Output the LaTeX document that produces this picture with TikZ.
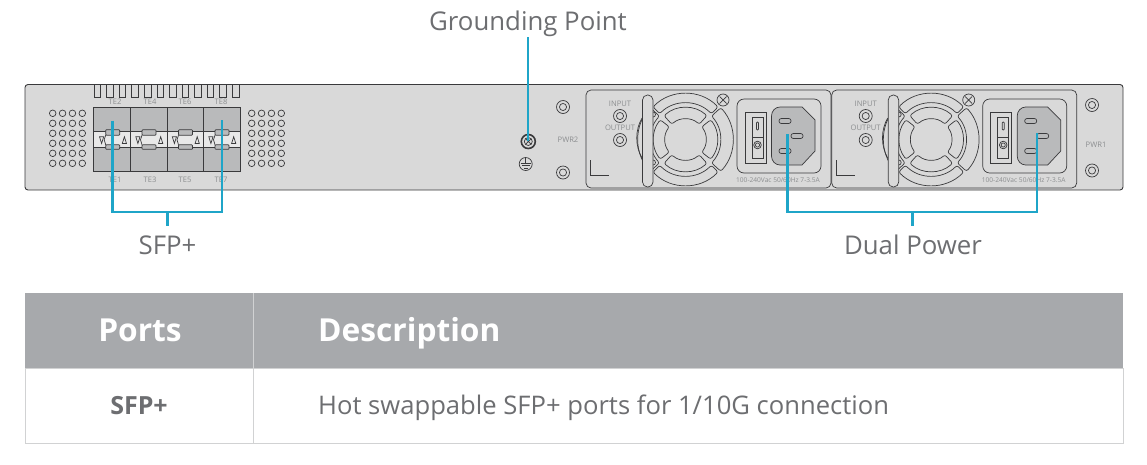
\documentclass[tikz,border=0pt]{standalone}
\usepackage{fontspec}
\setmainfont{Open Sans}
\definecolor{panelc}{HTML}{D9D9D9}
\definecolor{linec}{HTML}{3A3A3C}
\definecolor{blue1}{HTML}{1FA5C8}
\definecolor{txtc}{HTML}{6D6E71}
\definecolor{faint}{HTML}{8C8E90}
\definecolor{portc}{HTML}{B9BABB}
\definecolor{headc}{HTML}{A7A9AC}
\definecolor{gridc}{HTML}{D1D2D3}
\tikzset{
  ln/.style={draw=linec,line width=0.7pt},
  callout/.style={draw=blue1,line width=2.6pt},
  lab/.style={text=txtc,font=\fontsize{25.8}{30}\selectfont,inner sep=0pt,anchor=base},
  tiny/.style={text=faint,font=\fontsize{7.6}{9}\selectfont,inner sep=0pt},
  tiny2/.style={text=faint,font=\fontsize{6.6}{8}\selectfont,inner sep=0pt},
  tehead/.style={text=white,font=\bfseries\fontsize{31.7}{36}\selectfont,inner sep=0pt,anchor=base},
  tecell/.style={text=txtc,font=\fontsize{25.6}{30}\selectfont,inner sep=0pt,anchor=base},
}
\newcommand{\dbl}[3]{\draw[ln,fill=panelc] (#1,#2) circle (#3); \draw[ln] (#1,#2) circle (#3*0.55);}
\newcommand{\fanslot}[5]{%
  \draw[ln,rounded corners=2.2pt,fill=panelc] ($(#1)+(#2:#4)$) arc (#2:#3:#4) -- ($(#1)+(#3:#5)$) arc (#3:#2:#5) -- cycle;}
\newcommand{\psu}[1]{%
\begin{scope}[xshift=#1]
  \draw[ln,rounded corners=5pt] (586,90) rectangle (831,188);
  \draw[ln] (590.5,160) -- (590.5,175) -- (609,175);
  \node[tiny] at (620,104) {INPUT};
  \dbl{620}{116}{6.5}
  \node[tiny] at (620,128) {OUTPUT};
  \dbl{620}{140}{6.5}
  % fan
  \coordinate (fc) at (685.5,139.5);
  \fanslot{fc}{45}{135}{36.5}{46}
  \fanslot{fc}{-135}{-45}{36.5}{46}
  \fanslot{fc}{-42}{42}{35}{47.5}
  \fanslot{fc}{138}{222}{35}{47.5}
  \fanslot{fc}{48}{132}{20.5}{32}
  \fanslot{fc}{-132}{-48}{20.5}{32}
  \fanslot{fc}{-38}{38}{20.5}{32}
  \fanslot{fc}{142}{218}{20.5}{32}
  \draw[ln] (642,118) .. controls (635,130) and (635,146) .. (642,158);
  \draw[ln] (653,112) arc (-90:90:2.5) (653,160) arc (-90:90:2.5);
  \draw[ln,fill=panelc,rounded corners=5pt] (642.5,95) rectangle (653,187);
  \draw[ln,fill=panelc] (723,100) circle (6);
  \draw[ln] (719.5,96.5) -- (726.5,103.5) (719.5,103.5) -- (726.5,96.5);
  % outlet
  \draw[ln,rounded corners=7pt] (737,99) rectangle (821,173);
  \draw[ln,line width=1pt] (745,112) rectangle (766,163);
  \draw[ln,line width=1pt] (752,117.5) rectangle (763,158);
  \draw[ln] (752,137) -- (763,137);
  \draw[ln,rounded corners=0.8pt] (756.5,122) rectangle (758.5,130);
  \dbl{757.5}{145}{3.8}
  \draw[ln,fill=portc] (780,107) -- (802,107) -- (815,120) -- (815,151) -- (802,165) -- (780,165) to[out=180,in=-90] (771.5,156) -- (771.5,116) to[out=90,in=180] (780,107) -- cycle;
  \draw[ln,rounded corners=2.3pt] (779,118.5) rectangle (791,123.5);
  \draw[ln,rounded corners=2.3pt] (791,133.5) rectangle (803,138.5);
  \draw[ln,rounded corners=2.3pt] (779,148.5) rectangle (791,153.5);
  \node[tiny2] at (778,180) {100-240Vac 50/60Hz 7-3.5A};
\end{scope}}
\newcommand{\portcell}[2]{%
  \draw[ln] (#1-7,135.2) -- (#1-8.5,139.7) -- (#1-7,144.8);
  \draw[ln,fill=portc,rounded corners=0.8pt] (#1-7,129.7) rectangle (#1+7,135.2);
  \draw[ln,fill=portc,rounded corners=0.8pt] (#1-7,144.8) rectangle (#1+7,149.3);
  \draw[ln] (#1-13.2,136.7) -- (#1-9,136.7) -- (#1-11.1,143.5) -- cycle;
  \draw[ln] (#1+9.6,143.5) -- (#1+13.8,143.5) -- (#1+11.7,136.7) -- cycle;
}
\usetikzlibrary{calc}
\begin{document}
\begin{tikzpicture}[x=1pt,y=-1pt]
\useasboundingbox (0,0) rectangle (1147,464);
\fill[white] (0,0) rectangle (1147,464);
% chassis
\draw[draw=linec,line width=0.9pt,fill=panelc,rounded corners=3pt] (25,84.5) rectangle (1123,190);
% notches
\foreach \i in {0,...,11}{
  \draw[ln] ({94+12.57*\i},85) -- ({94+12.57*\i},97.5) -- ({100.7+12.57*\i},97.5) -- ({100.7+12.57*\i},85);
}
% vents
\foreach \cx in {52.7,251.7}{
  \foreach \i in {0,...,3}{\foreach \j in {0,...,5}{
    \draw[ln] ({\cx+9.87*\i},{113.3+10*\j}) circle (3.3);
  }}
}
% port block
\fill[portc] (93.5,107.7) rectangle (240.7,171.7);
\fill[panelc!60!white] (93.5,131.7) rectangle (240.7,147.7);
\draw[linec,line width=0.9pt] (93.5,107.7) rectangle (240.7,171.7);
\draw[ln] (93.5,131.7) -- (240.7,131.7) (93.5,147.7) -- (240.7,147.7);
\foreach \x in {130.7,167.3,203.7}{\draw[linec,line width=0.9pt] (\x,107.7) -- (\x,171.7);}
\foreach \x in {112.7,149,185.5,222}{\portcell{\x}{0}}
\foreach \x/\t in {115/TE2,150/TE4,185/TE6,221/TE8}{\node[tiny] at (\x,102) {\t};}
\foreach \x/\t in {115/TE1,150/TE3,185/TE5,221/TE7}{\node[tiny] at (\x,180) {\t};}
% power side
\dbl{563}{107}{6.5}
\dbl{563}{172.5}{6.5}
\node[tiny] at (568,139.5) {PWR2};
\dbl{1092}{105}{6.5}
\dbl{1092}{170.5}{6.5}
\node[tiny] at (1096,144.5) {PWR1};
\psu{0pt}
\psu{245.7pt}
% grounding
\draw[linec,line width=1.6pt,fill=panelc] (528.3,141.5) circle (7);
\draw[ln] (528.3,141.5) circle (4);
\draw[ln] (525.5,138.7) -- (531.1,144.3) (525.5,144.3) -- (531.1,138.7);
\draw[ln] (525.7,164) circle (6.5);
\draw[ln] (525.7,158) -- (525.7,163) (520.5,163) -- (531,163) (522,165.5) -- (529.5,165.5) (524,168) -- (527.5,168);
% callouts
\node[lab] (gp) at (528,30) {Grounding Point};
\node[lab] (sfp) at (167.5,254) {SFP+};
\node[lab] (dp) at (913,254) {Dual Power};
\coordinate (gpT) at (528,37);
\coordinate (gpE) at (528,141);
\coordinate (sA) at (112.3,120.5);
\coordinate (sB) at (222,120);
\coordinate (sJ) at (167.5,212);
\coordinate (sS) at (167.5,226);
\coordinate (dA) at (787.7,134);
\coordinate (dB) at (1037,133);
\coordinate (dJ) at (912.5,212);
\coordinate (dS) at (912.5,226);
\draw[callout] (gpT) -- (gpE);
\draw[callout] (sA) |- (sJ) -| (sB);
\draw[callout] (sJ) -- (sS);
\draw[callout] (dA) |- (dJ) -| (dB);
\draw[callout] (dJ) -- (dS);
% table
\fill[headc] (25,293) rectangle (1123,368);
\draw[gridc,line width=0.8pt] (253,293) -- (253,368);
\draw[gridc,line width=0.8pt] (25,368) rectangle (1123,443);
\draw[gridc,line width=0.8pt] (253,368) -- (253,443);
\node[tehead] (h1) at (140,341) {Ports};
\node[tehead,anchor=base west] (h2) at (318,341) {Description};
\node[tecell,font=\bfseries\fontsize{25}{30}\selectfont] (c1) at (139,414) {SFP+};
\node[tecell,anchor=base west] (c2) at (318,414) {Hot swappable SFP+ ports for 1/10G connection};
\end{tikzpicture}
\end{document}
